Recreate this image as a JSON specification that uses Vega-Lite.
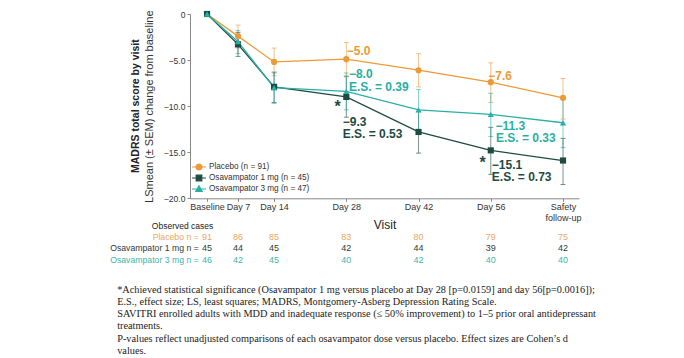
{
  "$schema": "https://vega.github.io/schema/vega-lite/v6.json",
  "background": "white",
  "padding": {"left": 110, "top": 9, "right": 5, "bottom": 2},
  "bounds": "flush",
  "spacing": 21,
  "resolve": {"scale": {"color": "independent", "shape": "independent", "x": "independent", "y": "independent"}, "legend": {"color": "independent", "shape": "independent"}},
  "config": {"view": {"stroke": null}, "font": "Liberation Sans"},
  "datasets": {
    "series": [
      {"group": "Placebo (n = 91)", "dose": "Placebo", "day": 1, "mean": 0, "lo": null, "hi": null},
      {"group": "Placebo (n = 91)", "dose": "Placebo", "day": 7, "mean": -2.4, "lo": -1.2, "hi": -3.7},
      {"group": "Placebo (n = 91)", "dose": "Placebo", "day": 14, "mean": -5.2, "lo": -3.7, "hi": -6.7},
      {"group": "Placebo (n = 91)", "dose": "Placebo", "day": 28, "mean": -4.9, "lo": -3.1, "hi": -6.7},
      {"group": "Placebo (n = 91)", "dose": "Placebo", "day": 42, "mean": -6.1, "lo": -4.3, "hi": -7.9},
      {"group": "Placebo (n = 91)", "dose": "Placebo", "day": 56, "mean": -7.4, "lo": -5.3, "hi": -9.6},
      {"group": "Placebo (n = 91)", "dose": "Placebo", "day": 70, "mean": -9.1, "lo": -7.0, "hi": -11.4},
      {"group": "Osavampator 1 mg (n = 45)", "dose": "1 mg", "day": 1, "mean": 0, "lo": null, "hi": null},
      {"group": "Osavampator 1 mg (n = 45)", "dose": "1 mg", "day": 7, "mean": -3.3, "lo": -2.0, "hi": -4.6},
      {"group": "Osavampator 1 mg (n = 45)", "dose": "1 mg", "day": 14, "mean": -7.9, "lo": -6.3, "hi": -9.6},
      {"group": "Osavampator 1 mg (n = 45)", "dose": "1 mg", "day": 28, "mean": -9.0, "lo": -6.8, "hi": -11.2},
      {"group": "Osavampator 1 mg (n = 45)", "dose": "1 mg", "day": 42, "mean": -12.8, "lo": -10.6, "hi": -15.1},
      {"group": "Osavampator 1 mg (n = 45)", "dose": "1 mg", "day": 56, "mean": -14.8, "lo": -12.3, "hi": -17.4},
      {"group": "Osavampator 1 mg (n = 45)", "dose": "1 mg", "day": 70, "mean": -15.9, "lo": -13.5, "hi": -18.5},
      {"group": "Osavampator 3 mg (n = 47)", "dose": "3 mg", "day": 1, "mean": 0, "lo": null, "hi": null},
      {"group": "Osavampator 3 mg (n = 47)", "dose": "3 mg", "day": 7, "mean": -3.0, "lo": -1.8, "hi": -4.3},
      {"group": "Osavampator 3 mg (n = 47)", "dose": "3 mg", "day": 14, "mean": -8.0, "lo": -6.4, "hi": -9.7},
      {"group": "Osavampator 3 mg (n = 47)", "dose": "3 mg", "day": 28, "mean": -8.4, "lo": -6.4, "hi": -10.4},
      {"group": "Osavampator 3 mg (n = 47)", "dose": "3 mg", "day": 42, "mean": -10.4, "lo": -8.2, "hi": -12.7},
      {"group": "Osavampator 3 mg (n = 47)", "dose": "3 mg", "day": 56, "mean": -10.9, "lo": -8.6, "hi": -13.3},
      {"group": "Osavampator 3 mg (n = 47)", "dose": "3 mg", "day": 70, "mean": -11.8, "lo": -9.3, "hi": -14.5}
    ],
    "annot": [
      {"group": "Placebo (n = 91)", "day": 28.1, "v": -4.0, "label": "−5.0"},
      {"group": "Osavampator 3 mg (n = 47)", "day": 28.5, "v": -6.5, "label": "−8.0"},
      {"group": "Osavampator 3 mg (n = 47)", "day": 28.5, "v": -7.9, "label": "E.S. = 0.39"},
      {"group": "Osavampator 1 mg (n = 45)", "day": 27.3, "v": -11.7, "label": "−9.3"},
      {"group": "Osavampator 1 mg (n = 45)", "day": 27.3, "v": -13.0, "label": "E.S. = 0.53"},
      {"group": "Placebo (n = 91)", "day": 55.5, "v": -6.73, "label": "−7.6"},
      {"group": "Osavampator 3 mg (n = 47)", "day": 56.9, "v": -12.15, "label": "−11.3"},
      {"group": "Osavampator 3 mg (n = 47)", "day": 57.0, "v": -13.46, "label": "E.S. = 0.33"},
      {"group": "Osavampator 1 mg (n = 45)", "day": 56.2, "v": -16.4, "label": "−15.1"},
      {"group": "Osavampator 1 mg (n = 45)", "day": 56.2, "v": -17.66, "label": "E.S. = 0.73"}
    ],
    "stars": [
      {"group": "Osavampator 1 mg (n = 45)", "day": 26.3, "v": -9.17, "label": "*"},
      {"group": "Osavampator 1 mg (n = 45)", "day": 54.4, "v": -15.28, "label": "*"}
    ],
    "rows": [
      {"row": "Placebo n =", "label": "Placebo n ="},
      {"row": "Osavampator 1 mg n =", "label": "Osavampator 1 mg n ="},
      {"row": "Osavampator 3 mg n =", "label": "Osavampator 3 mg n ="}
    ],
    "header": [
      {"row": "Observed cases", "label": "Observed cases"}
    ],
    "cases": [
      {"row": "Placebo n =", "day": 1, "n": 91},
      {"row": "Placebo n =", "day": 7, "n": 86},
      {"row": "Placebo n =", "day": 14, "n": 85},
      {"row": "Placebo n =", "day": 28, "n": 83},
      {"row": "Placebo n =", "day": 42, "n": 80},
      {"row": "Placebo n =", "day": 56, "n": 79},
      {"row": "Placebo n =", "day": 70, "n": 75},
      {"row": "Osavampator 1 mg n =", "day": 1, "n": 45},
      {"row": "Osavampator 1 mg n =", "day": 7, "n": 44},
      {"row": "Osavampator 1 mg n =", "day": 14, "n": 45},
      {"row": "Osavampator 1 mg n =", "day": 28, "n": 42},
      {"row": "Osavampator 1 mg n =", "day": 42, "n": 44},
      {"row": "Osavampator 1 mg n =", "day": 56, "n": 39},
      {"row": "Osavampator 1 mg n =", "day": 70, "n": 42},
      {"row": "Osavampator 3 mg n =", "day": 1, "n": 46},
      {"row": "Osavampator 3 mg n =", "day": 7, "n": 42},
      {"row": "Osavampator 3 mg n =", "day": 14, "n": 45},
      {"row": "Osavampator 3 mg n =", "day": 28, "n": 40},
      {"row": "Osavampator 3 mg n =", "day": 42, "n": 42},
      {"row": "Osavampator 3 mg n =", "day": 56, "n": 40},
      {"row": "Osavampator 3 mg n =", "day": 70, "n": 40}
    ]
  },
  "title": {
    "text": [
      "*Achieved statistical significance (Osavampator 1 mg versus placebo at Day 28 [p=0.0159] and day 56[p=0.0016]);",
      "E.S., effect size; LS, least squares; MADRS, Montgomery-Asberg Depression Rating Scale.",
      "SAVITRI enrolled adults with MDD and inadequate response (≤ 50% improvement) to 1–5 prior oral antidepressant",
      "treatments.",
      "P-values reflect unadjusted comparisons of each osavampator dose versus placebo. Effect sizes are Cohen’s d",
      "values."
    ],
    "orient": "bottom",
    "anchor": "start",
    "font": "Liberation Serif",
    "fontSize": 10.3,
    "fontWeight": "normal",
    "color": "#222222",
    "lineHeight": 12.1,
    "offset": 20,
    "dx": 7
  },
  "vconcat": [
    {
      "width": 389,
      "height": 184.3,
      "title": {"text": "MADRS total score by visit", "orient": "left", "anchor": "middle", "frame": "group", "fontSize": 10.5, "fontWeight": "bold", "color": "#222222", "offset": 2},
      "encoding": {
        "x": {
          "field": "day", "type": "quantitative",
          "scale": {"domain": [-2.3, 73.1], "nice": false, "zero": false},
          "axis": {
            "values": [1, 7, 14, 28, 42, 56, 70],
            "labelExpr": "datum.value == 1 ? 'Baseline' : datum.value == 70 ? ['Safety', 'follow-up'] : 'Day ' + datum.value",
            "title": "Visit", "grid": false, "tickSize": 3, "labelPadding": 1, "labelFontSize": 9,
            "labelColor": "#333333", "domainColor": "#888888", "tickColor": "#888888",
            "titleFontSize": 12, "titleFontWeight": "normal", "titleColor": "#222222",
            "titleY": 25.7, "titleBaseline": "middle", "labelLineHeight": 11, "labelFlush": false, "labelOverlap": false
          }
        },
        "color": {
          "field": "group", "type": "nominal",
          "scale": {"domain": ["Placebo (n = 91)", "Osavampator 1 mg (n = 45)", "Osavampator 3 mg (n = 47)"], "range": ["#EC9A35", "#1E4B41", "#29AFA5"]},
          "legend": {
            "title": null, "orient": "bottom-left", "offset": 4, "labelFontSize": 8.2, "labelColor": "#333333",
            "rowPadding": -2.5, "labelOffset": 5, "padding": 0, "symbolSize": 64, "symbolStrokeWidth": 1.2,
            "encoding": {
              "symbols": {
                "shape": {"value": {"expr": "datum.value === 'Placebo (n = 91)' ? 'M-1.75,0L1.75,0M-0.75,0A0.75,0.75,0,1,0,0.75,0A0.75,0.75,0,1,0,-0.75,0Z' : datum.value === 'Osavampator 1 mg (n = 45)' ? 'M-1.75,0L1.75,0M-0.7,-0.7L0.7,-0.7L0.7,0.7L-0.7,0.7Z' : 'M-1.75,0L1.75,0M0,-0.8L0.8,0.6L-0.8,0.6Z'"}},
                "stroke": {"value": {"expr": "datum.value === 'Placebo (n = 91)' ? '#EC9A35' : datum.value === 'Osavampator 1 mg (n = 45)' ? '#1E4B41' : '#29AFA5'"}},
                "fill": {"value": {"expr": "datum.value === 'Placebo (n = 91)' ? '#EC9A35' : datum.value === 'Osavampator 1 mg (n = 45)' ? '#1E4B41' : '#29AFA5'"}},
                "strokeWidth": {"value": 1.2},
                "opacity": {"value": 1}
              }
            }
          }
        }
      },
      "layer": [
        {
          "data": {"name": "series"},
          "transform": [{"filter": "isValid(datum.lo)"}],
          "mark": {"type": "errorbar", "ticks": {"size": 5}, "thickness": 1, "opacity": 0.6},
          "encoding": {
            "y": {
              "field": "lo", "type": "quantitative", "scale": {"domain": [-20, 0], "nice": false},
              "axis": {
                "values": [0, -2.5, -5, -7.5, -10, -12.5, -15, -17.5, -20],
                "labelExpr": "datum.value == 0 ? '0' : format(datum.value, '.1f')",
                "title": "LSmean (± SEM) change from baseline", "titleFontWeight": "normal", "titleFontSize": 11,
                "titleColor": "#333333", "titleX": -41, "titleBaseline": "middle",
                "grid": false, "tickSize": 3, "labelPadding": 2, "labelFontSize": 8.6, "labelColor": "#333333",
                "domainColor": "#888888", "tickColor": "#888888"
              }
            },
            "y2": {"field": "hi"},
            "xOffset": {"field": "group", "type": "nominal", "scale": {"type": "point", "domain": ["Placebo (n = 91)", "Osavampator 1 mg (n = 45)", "Osavampator 3 mg (n = 47)"], "range": [-3, 3], "padding": 0}}
          }
        },
        {
          "data": {"name": "series"},
          "mark": {"type": "line", "strokeWidth": 1.3},
          "encoding": {
            "y": {"field": "mean", "type": "quantitative", "title": "LSmean (± SEM) change from baseline"},
            "xOffset": {"field": "group", "type": "nominal"}
          }
        },
        {
          "data": {"name": "series"},
          "mark": {"type": "point", "filled": true, "size": 38, "opacity": 1},
          "encoding": {
            "y": {"field": "mean", "type": "quantitative", "title": "LSmean (± SEM) change from baseline"},
            "xOffset": {"field": "group", "type": "nominal"},
            "shape": {
              "field": "dose", "type": "nominal",
              "scale": {"domain": ["Placebo", "1 mg", "3 mg"], "range": ["circle", "square", "triangle-up"]},
              "legend": null
            }
          }
        },
        {
          "data": {"name": "annot"},
          "mark": {"type": "text", "align": "left", "baseline": "middle", "fontSize": 12, "fontWeight": "bold"},
          "encoding": {
            "y": {"field": "v", "type": "quantitative", "title": "LSmean (± SEM) change from baseline"},
            "text": {"field": "label"}
          }
        },
        {
          "data": {"name": "stars"},
          "mark": {"type": "text", "align": "center", "baseline": "top", "fontSize": 16, "fontWeight": "bold"},
          "encoding": {
            "y": {"field": "v", "type": "quantitative", "title": "LSmean (± SEM) change from baseline"},
            "text": {"field": "label"}
          }
        }
      ]
    },
    {
      "width": 389,
      "height": 45.2,
      "encoding": {
        "y": {
          "field": "row", "type": "nominal",
          "scale": {"domain": ["Observed cases", "Placebo n =", "Osavampator 1 mg n =", "Osavampator 3 mg n ="]},
          "axis": null
        },
        "color": {
          "field": "row", "type": "nominal",
          "scale": {"domain": ["Observed cases", "Placebo n =", "Osavampator 1 mg n =", "Osavampator 3 mg n ="], "range": ["#222222", "#E8A864", "#2F3B38", "#3FB5AC"]},
          "legend": null
        }
      },
      "layer": [
        {
          "data": {"name": "cases"},
          "mark": {"type": "text", "fontSize": 9},
          "encoding": {
            "x": {"field": "day", "type": "quantitative", "scale": {"domain": [-2.3, 73.1], "nice": false, "zero": false}, "axis": null},
            "text": {"field": "n", "type": "quantitative"}
          }
        },
        {
          "data": {"name": "rows"},
          "mark": {"type": "text", "fontSize": 8.7, "align": "right"},
          "encoding": {
            "x": {"datum": -0.6, "type": "quantitative"},
            "text": {"field": "label"}
          }
        },
        {
          "data": {"name": "header"},
          "mark": {"type": "text", "fontSize": 8.5, "align": "left"},
          "encoding": {
            "x": {"datum": -9.7, "type": "quantitative"},
            "text": {"field": "label"}
          }
        }
      ]
    }
  ]
}
